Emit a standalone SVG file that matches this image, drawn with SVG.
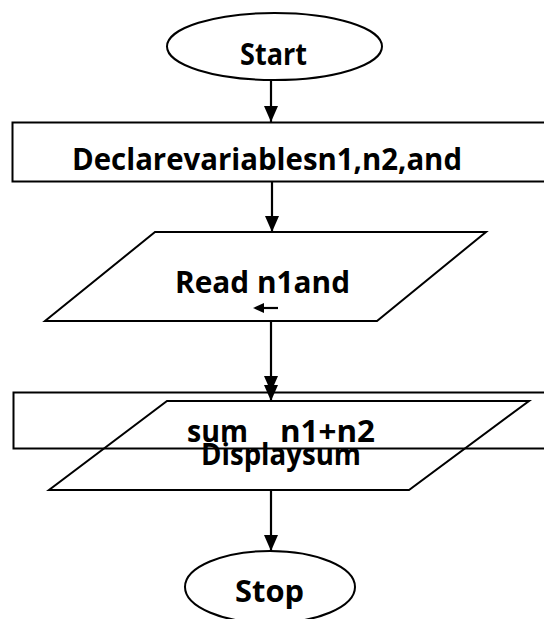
<svg xmlns="http://www.w3.org/2000/svg" width="544" height="619" viewBox="0 0 544 619">
<style>
.s{fill:none;stroke:#000;stroke-width:2}
.t{font-family:"Open Sans","Noto Sans",sans-serif;font-weight:700;font-size:31px;fill:#000}
.c{stroke:#000;stroke-width:2.2;fill:none}
</style>
<defs>
<marker id="ah" markerUnits="userSpaceOnUse" markerWidth="16" markerHeight="14" refX="16" refY="7" orient="auto" viewBox="0 0 16 14">
<path d="M0,0 L16,7 L0,14 z" fill="#000"/>
</marker>
</defs>
<rect width="544" height="619" fill="#fff"/>
<g id="start">
<ellipse class="s" cx="274.5" cy="46.5" rx="107.5" ry="33.5"/>
<text class="t" x="240" y="65" textLength="67" lengthAdjust="spacingAndGlyphs">Start</text>
</g>
<g id="declare">
<rect class="s" x="12.5" y="122.5" width="540" height="59"/>
<text class="t" x="72" y="170" textLength="390" lengthAdjust="spacingAndGlyphs">Declarevariablesn1,n2,and</text>
</g>
<g id="read">
<polygon class="s" points="155,232 486,232 377,321 45,321"/>
<text class="t" x="175" y="293" textLength="175" lengthAdjust="spacingAndGlyphs">Read n1and</text>
<path d="M278,308 L262,308" class="c"/>
<path d="M253,308 L264,303 L264,313 z" fill="#000"/>
</g>
<g id="sum">
<rect class="s" x="13.5" y="392.5" width="540" height="56"/>
<text class="t" y="442"><tspan x="187" textLength="61" lengthAdjust="spacingAndGlyphs">sum</tspan><tspan x="280" textLength="95" lengthAdjust="spacingAndGlyphs">n1+n2</tspan></text>
</g>
<g id="display">
<polygon class="s" points="167,401 529,401 409,490 49,490"/>
<text class="t" x="201" y="465" textLength="160" lengthAdjust="spacingAndGlyphs">Displaysum</text>
</g>
<g id="stop">
<ellipse class="s" cx="270" cy="587" rx="85" ry="36"/>
<text class="t" x="235" y="602" textLength="69" lengthAdjust="spacingAndGlyphs">Stop</text>
</g>
<g id="connectors">
<line class="c" x1="271" y1="80" x2="271" y2="122" marker-end="url(#ah)"/>
<line class="c" x1="272" y1="182" x2="272" y2="232" marker-end="url(#ah)"/>
<line class="c" x1="271" y1="321" x2="271" y2="392" marker-end="url(#ah)"/>
<line class="c" x1="271" y1="384" x2="271" y2="401" marker-end="url(#ah)"/>
<line class="c" x1="271" y1="490" x2="271" y2="551" marker-end="url(#ah)"/>
</g>
</svg>
